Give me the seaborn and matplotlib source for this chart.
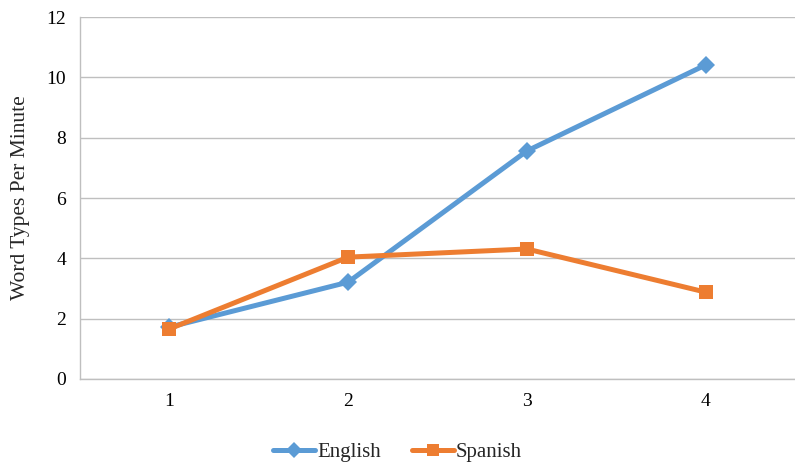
import matplotlib
matplotlib.use("Agg")
import matplotlib.pyplot as plt
import seaborn as sns
import pandas as pd
from matplotlib.lines import Line2D

sessions = [1, 2, 3, 4]
english = [1.72, 3.21, 7.56, 10.41]
spanish = [1.66, 4.04, 4.31, 2.88]
y_ticks = [0, 2, 4, 6, 8, 10, 12]

df = pd.DataFrame({
    "Session": sessions * 2,
    "Value": english + spanish,
    "Language": ["English"] * 4 + ["Spanish"] * 4,
})

sns.set_style("white")
plt.rcParams["font.family"] = ["Liberation Serif", "DejaVu Serif"]

fig = plt.figure(figsize=(7.95, 4.66), dpi=100)
ax = fig.add_axes([0.1006, 0.1867, 0.8994, 0.7768])

palette = {"English": "#5B9BD5", "Spanish": "#ED7D31"}
sns.lineplot(data=df, x="Session", y="Value", hue="Language", style="Language",
             markers={"English": "D", "Spanish": "s"}, dashes=False,
             palette=palette, linewidth=3.6, markersize=9.5, markeredgewidth=0,
             ax=ax, legend=False)

ax.set_xlim(0.5, 4.5)
ax.set_ylim(0, 12)
ax.set_yticks(y_ticks)
ax.set_xticks(sessions)
ax.set_xticklabels([str(s) for s in sessions])
ax.grid(axis="y", color="#BFBFBF", linewidth=1)
ax.set_axisbelow(True)
for side in ["top", "right"]:
    ax.spines[side].set_visible(False)
for side in ["left", "bottom"]:
    ax.spines[side].set_color("#BFBFBF")
    ax.spines[side].set_linewidth(1)
ax.tick_params(axis="both", length=0, labelsize=14, colors="black", pad=10)
ax.set_xlabel("")
ax.set_ylabel("Word Types Per Minute", fontsize=15.5, labelpad=12)

handles = [
    Line2D([0], [0], color=palette["English"], marker="D", linewidth=3.6,
           markersize=8, markeredgewidth=0),
    Line2D([0], [0], color=palette["Spanish"], marker="s", linewidth=3.6,
           markersize=8, markeredgewidth=0),
]
fig.legend(handles, ["English", "Spanish"], loc="center", ncol=2,
           bbox_to_anchor=(0.5, 0.03), frameon=False, fontsize=15,
           handlelength=2.0, handletextpad=0.1, columnspacing=1.5)

fig.savefig("out.png", dpi=100)
